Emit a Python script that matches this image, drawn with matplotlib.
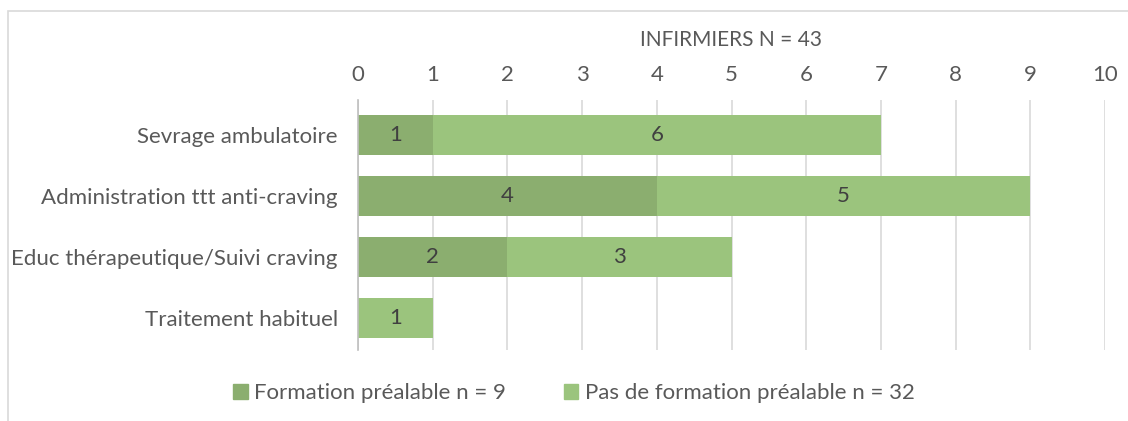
import matplotlib
matplotlib.use("Agg")
import matplotlib.pyplot as plt
from matplotlib.patches import Rectangle, Patch

categories = ["Sevrage ambulatoire", "Administration ttt anti-craving",
              "Educ thérapeutique/Suivi craving", "Traitement habituel"]
formation = [1, 4, 2, 0]
pas_formation = [6, 5, 3, 1]
series_names = ["Formation préalable n = 9", "Pas de formation préalable n = 32"]
title = "INFIRMIERS N = 43"
xticks = list(range(0, 11))

plt.rcParams['font.family'] = ['Lato', 'DejaVu Sans']
dark = "#8BAE6F"
light = "#9BC47D"
txt = "#595959"

fig = plt.figure(figsize=(11.28, 4.21), dpi=100)
ax = fig.add_axes([358/1128, 1-350/421, (1105-358)/1128, 250/421])

y = list(range(len(categories)))
ax.barh(y, formation, height=0.66, color=dark, label=series_names[0], zorder=3)
ax.barh(y, pas_formation, left=formation, height=0.66, color=light, label=series_names[1], zorder=3)

for i in range(len(categories)):
    if formation[i] > 0:
        ax.text(formation[i]/2, i, str(formation[i]), ha='center', va='center',
                fontsize=16, color="#404040", zorder=4)
    if pas_formation[i] > 0:
        ax.text(formation[i] + pas_formation[i]/2, i, str(pas_formation[i]), ha='center', va='center',
                fontsize=16, color="#404040", zorder=4)

ax.set_xlim(0, 10)
ax.set_ylim(3.53, -0.57)
ax.set_yticks(y)
ax.set_yticklabels(categories, fontsize=16, color=txt)
ax.set_xticks(xticks)
ax.set_xticklabels([str(t) for t in xticks], fontsize=16, color=txt)
ax.xaxis.tick_top()
ax.tick_params(axis='both', length=0)
ax.tick_params(axis='y', pad=14.5)
ax.tick_params(axis='x', pad=11)
ax.grid(axis='x', color="#D9D9D9", linewidth=1.2, zorder=0)
for s in ['top', 'right', 'bottom']:
    ax.spines[s].set_visible(False)
ax.spines['left'].set_color("#BFBFBF")
ax.spines['left'].set_linewidth(1.2)
ax.spines['left'].set_zorder(5)

fig.text(731/1128, 1-40/421, title, ha='center', va='center', fontsize=15, color=txt)

handles = [Patch(color=dark), Patch(color=light)]
fig.legend(handles, series_names, loc='center', bbox_to_anchor=(574/1128, 1-393/421),
           ncol=2, frameon=False, fontsize=16, labelcolor=txt, handlelength=0.65,
           handleheight=0.65, handletextpad=0.3, columnspacing=2.6)

fig.patches.append(Rectangle((8/1128, -0.1), 1.2, 1-11/421+0.1, transform=fig.transFigure,
                             fill=False, edgecolor="#D9D9D9", linewidth=1.2))

fig.savefig("out.png", dpi=100)
